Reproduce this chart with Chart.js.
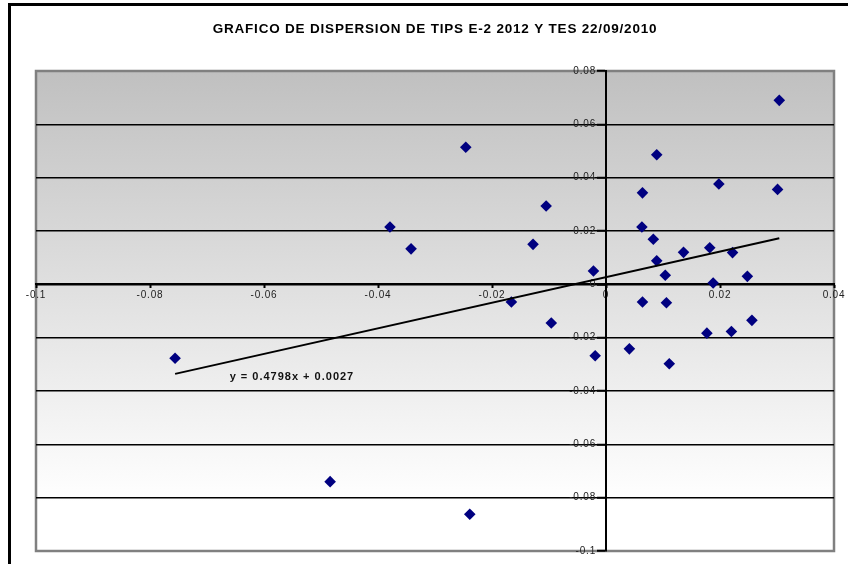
<!DOCTYPE html>
<html>
<head>
<meta charset="utf-8">
<script src="https://cdn.jsdelivr.net/npm/chart.js@4/dist/chart.umd.min.js"></script>
<style>
  html, body { margin: 0; padding: 0; background: #fff; overflow: hidden; }
  #wrap { position: relative; width: 848px; height: 564px; }
  #frame { position: absolute; left: 8px; top: 3px; width: 900px; height: 700px;
           border-left: 3px solid #000; border-top: 3px solid #000; pointer-events: none; }
</style>
</head>
<body>
<div id="wrap">
  <canvas id="c" width="848" height="564"></canvas>
  <div id="frame"></div>
</div>
<script>
// Daily changes: TIPS E-2 2012 (x) against TES (y)
const chartTitle = 'GRAFICO DE DISPERSION DE TIPS E-2 2012 Y TES 22/09/2010';

const tipsChange = [
  -0.0246, -0.0379, -0.0342, -0.0105, -0.0128, -0.0022, -0.0166,
   0.0304,  0.0089,  0.0198,  0.0301,  0.0064,  0.0063,  0.0083,
   0.0136,  0.0182,  0.0222,  0.0089,  0.0104,  0.0248,  0.0188,
   0.0064,  0.0106,  0.0256,  0.0177,  0.0220,  0.0041,  0.0111,
  -0.0019, -0.0096, -0.0239, -0.0484, -0.0756
];
const tesChange = [
   0.0514,  0.0215,  0.0133,  0.0294,  0.0150,  0.0050, -0.0066,
   0.0690,  0.0486,  0.0376,  0.0356,  0.0343,  0.0215,  0.0169,
   0.0120,  0.0137,  0.0119,  0.0088,  0.0034,  0.0030,  0.0005,
  -0.0066, -0.0069, -0.0135, -0.0183, -0.0177, -0.0242, -0.0298,
  -0.0268, -0.0145, -0.0862, -0.0740, -0.0277
];

const xTickValues = [-0.1, -0.08, -0.06, -0.04, -0.02, 0, 0.02, 0.04];
const yTickValues = [-0.1, -0.08, -0.06, -0.04, -0.02, 0, 0.02, 0.04, 0.06, 0.08];

// Linear trend line
const trendSlope = 0.4798;
const trendIntercept = 0.0027;
const trendLabel = 'y = ' + trendSlope.toFixed(4) + 'x + ' + trendIntercept.toFixed(4);

const FONT = "'Liberation Sans', Arial, sans-serif";

const points = tipsChange.map((x, i) => ({ x: x, y: tesChange[i] }));
const xMin = Math.min(...tipsChange);
const xMax = Math.max(...tipsChange);
const trendPoints = [
  { x: xMin, y: trendSlope * xMin + trendIntercept },
  { x: xMax, y: trendSlope * xMax + trendIntercept }
];

const fmt = v => String(+Number(v).toFixed(2));

// The value axis crosses at x = 0; its labels sit just left of the tick marks
const Y_LABEL_GAP = 10;

const plotStyle = {
  id: 'plotStyle',
  beforeLayout(chart) { chart.ctx.letterSpacing = '0.8px'; },
  beforeDraw(chart) {
    const { ctx, chartArea: a } = chart;
    ctx.letterSpacing = '0.8px';

    const ys = chart.scales.y;
    if (ys && !ys._labelShift) {
      const orig = ys.drawLabels.bind(ys);
      ys.drawLabels = function (area) {
        this.ctx.save();
        this.ctx.translate(-Y_LABEL_GAP, 0);
        orig(area);
        this.ctx.restore();
      };
      ys._labelShift = true;
    }

    ctx.save();
    const g = ctx.createLinearGradient(0, a.top, 0, a.bottom);
    g.addColorStop(0, '#c0c0c0');
    g.addColorStop(0.9, '#ffffff');
    g.addColorStop(1, '#ffffff');
    ctx.fillStyle = g;
    ctx.fillRect(a.left, a.top, a.right - a.left, a.bottom - a.top);
    ctx.strokeStyle = '#808080';
    ctx.lineWidth = 2.5;
    ctx.strokeRect(a.left, a.top, a.right - a.left, a.bottom - a.top);
    ctx.restore();
  },
  afterDatasetsDraw(chart) {
    const { ctx, scales } = chart;
    ctx.save();
    ctx.font = 'bold 11px ' + FONT;
    ctx.letterSpacing = '1px';
    ctx.fillStyle = '#111';
    ctx.textAlign = 'center';
    ctx.textBaseline = 'middle';
    ctx.fillText(trendLabel, scales.x.getPixelForValue(-0.0551), scales.y.getPixelForValue(-0.0349));
    ctx.restore();
  }
};

const titleSpacing = {
  id: 'titleSpacing',
  beforeDraw(chart) { chart.ctx.letterSpacing = '1.8px'; },
  afterDraw(chart) { chart.ctx.letterSpacing = '0.8px'; }
};

new Chart(document.getElementById('c'), {
  type: 'scatter',
  data: {
    datasets: [
      {
        label: 'Tendencia',
        data: trendPoints,
        showLine: true,
        borderColor: '#000',
        borderWidth: 2,
        pointRadius: 0,
        fill: false
      },
      {
        label: 'TIPS vs TES',
        data: points,
        pointStyle: 'rectRot',
        pointRadius: 5.8,
        pointBorderWidth: 0,
        backgroundColor: '#000080',
        borderColor: '#000080'
      }
    ]
  },
  options: {
    responsive: false,
    animation: false,
    devicePixelRatio: 1,
    layout: { padding: { left: 36, right: 14, top: 14, bottom: 13 } },
    plugins: {
      legend: { display: false },
      tooltip: { enabled: false },
      title: {
        display: true,
        text: chartTitle,
        color: '#000',
        font: { family: FONT, size: 13.5, weight: 'bold' },
        padding: { top: 7.5, bottom: 33.3 }
      }
    },
    scales: {
      x: {
        type: 'linear',
        position: { y: 0 },
        min: -0.1,
        max: 0.04,
        afterBuildTicks: s => { s.ticks = xTickValues.map(v => ({ value: v })); },
        grid: { drawOnChartArea: false, drawTicks: true, tickLength: 3, tickWidth: 2, color: '#000', tickColor: '#000' },
        border: { display: true, color: '#000', width: 2 },
        ticks: { color: '#222', font: { family: FONT, size: 10 }, padding: 2, maxRotation: 0, autoSkip: false, callback: fmt }
      },
      y: {
        type: 'linear',
        position: { x: 0 },
        min: -0.1,
        max: 0.08,
        afterBuildTicks: s => { s.ticks = yTickValues.map(v => ({ value: v })); },
        grid: {
          drawTicks: true,
          tickLength: 8,
          tickWidth: 2,
          lineWidth: 1.5,
          tickColor: '#000',
          color: c => (c.tick && (c.tick.value <= -0.0999 || c.tick.value >= 0.0799)) ? 'rgba(0,0,0,0)' : '#000'
        },
        border: { display: true, color: '#000', width: 2 },
        ticks: { color: '#222', font: { family: FONT, size: 10 }, autoSkip: false, callback: fmt }
      }
    }
  },
  plugins: [titleSpacing, plotStyle]
});
</script>
</body>
</html>
